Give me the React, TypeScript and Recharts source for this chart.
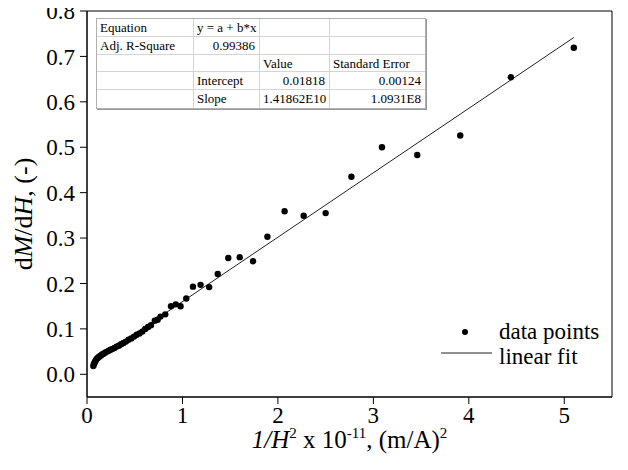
import React from 'react';
import { ComposedChart, Scatter, XAxis, YAxis, ReferenceArea } from 'recharts';

// 1/H^2 x 10^-11 (m/A)^2
const xValues = [
  0.066, 0.072, 0.078, 0.085, 0.093, 0.102, 0.112, 0.123, 0.135, 0.148,
  0.162, 0.177, 0.193, 0.21, 0.228, 0.247, 0.267, 0.288, 0.31, 0.333,
  0.357, 0.382, 0.408, 0.435, 0.463, 0.492, 0.52, 0.55, 0.58, 0.61,
  0.64, 0.67, 0.71, 0.74, 0.77, 0.82, 0.88, 0.93, 0.98, 1.04,
  1.11, 1.19, 1.28, 1.37, 1.48, 1.6, 1.74, 1.89, 2.07, 2.27,
  2.5, 2.77, 3.09, 3.46, 3.91, 4.44, 5.1,
];
// dM/dH (-)
const yValues = [
  0.018, 0.022, 0.025, 0.028, 0.031, 0.034, 0.036, 0.038, 0.04, 0.042,
  0.044, 0.046, 0.048, 0.05, 0.052, 0.054, 0.056, 0.058, 0.061, 0.063,
  0.066, 0.069, 0.072, 0.076, 0.079, 0.083, 0.087, 0.09, 0.094, 0.1,
  0.104, 0.108, 0.118, 0.12, 0.127, 0.132, 0.15, 0.154, 0.15, 0.167,
  0.193, 0.197, 0.192, 0.221, 0.256, 0.258, 0.249, 0.303, 0.359, 0.349,
  0.355, 0.435, 0.5, 0.483, 0.526, 0.654, 0.719,
];

const fitIntercept = 0.01818;
const fitSlope = 0.141862; // 1.41862E10 in units of 1e-11
const fitXRange = [0.066, 5.1];

const xTicks = [0, 1, 2, 3, 4, 5];
const xMinorTicks = [0, 0.5, 1, 1.5, 2, 2.5, 3, 3.5, 4, 4.5, 5, 5.5];
const yTicks = [0, 0.1, 0.2, 0.3, 0.4, 0.5, 0.6, 0.7, 0.8];
const yMinorTicks = [-0.05, 0, 0.05, 0.1, 0.15, 0.2, 0.25, 0.3, 0.35, 0.4, 0.45, 0.5, 0.55, 0.6, 0.65, 0.7, 0.75, 0.8];

const legendLabels = ['data points', 'linear fit'];

const tableRows = [
  ['Equation', 'y = a + b*x', '', ''],
  ['Adj. R-Square', '0.99386', '', ''],
  ['', '', 'Value', 'Standard Error'],
  ['', 'Intercept', '0.01818', '0.00124'],
  ['', 'Slope', '1.41862E10', '1.0931E8'],
];
const rightAligned = [
  [false, false, false, false],
  [false, true, false, false],
  [false, false, false, false],
  [false, false, true, true],
  [false, false, true, true],
];

const points = xValues.map((x, i) => ({ x, y: yValues[i] }));
const fitData = fitXRange.map((x) => ({ x, y: fitIntercept + fitSlope * x }));

const FONT = '"Liberation Serif", "Times New Roman", serif';

const XTitle = (props: any) => {
  const vb = props.viewBox || { x: 87, y: 397, width: 525 };
  const cx = vb.x + vb.width / 2;
  const by = vb.y + 51;
  return (
    <text x={cx} y={by} textAnchor="middle" fontFamily={FONT} fontSize={25} fill="#000">
      <tspan fontStyle="italic">1/H</tspan>
      <tspan dy={-10} fontSize={15}>2</tspan>
      <tspan dy={10}> x 10</tspan>
      <tspan dy={-10} fontSize={15}>-11</tspan>
      <tspan dy={10}>, (m/A)</tspan>
      <tspan dy={-10} fontSize={15}>2</tspan>
    </text>
  );
};

const YTitle = (props: any) => {
  const vb = props.viewBox || { x: 17, y: 11, height: 386 };
  const cx = 23;
  const cy = vb.y + vb.height / 2 + 10;
  return (
    <text
      x={cx}
      y={cy}
      transform={`rotate(-90, ${cx}, ${cy})`}
      textAnchor="middle"
      dominantBaseline="central"
      fontFamily={FONT}
      fontSize={26}
      fill="#000"
    >
      <tspan>d</tspan>
      <tspan fontStyle="italic">M</tspan>
      <tspan>/d</tspan>
      <tspan fontStyle="italic">H</tspan>
      <tspan>, (-)</tspan>
    </text>
  );
};

const LegendBox = () => (
  <svg
    width={175}
    height={52}
    style={{ position: 'absolute', left: 440, top: 318, overflow: 'visible' }}
  >
    <circle cx={25} cy={14} r={3} fill="#000" />
    <text x={59} y={21} fontFamily={FONT} fontSize={23} fill="#000">{legendLabels[0]}</text>
    <line x1={1} x2={52} y1={35} y2={35} stroke="#222" strokeWidth={1} />
    <text x={59} y={46} fontFamily={FONT} fontSize={23} fill="#000">{legendLabels[1]}</text>
  </svg>
);

const colWidths = [97, 66, 70, 95];
const rowHeight = 17.8;

const FitTable = () => (
  <div
    style={{
      position: 'absolute',
      left: 96,
      top: 18,
      background: '#fff',
      border: '1px solid #b0b0b0',
      boxShadow: '1px 1px 0 #999',
      fontFamily: FONT,
      fontSize: 13,
      color: '#000',
    }}
  >
    {tableRows.map((row, r) => (
      <div key={r} style={{ display: 'flex' }}>
        {row.map((cell, c) => (
          <div
            key={c}
            style={{
              width: colWidths[c],
              height: rowHeight,
              boxSizing: 'border-box',
              borderRight: c < 3 ? '1px solid #d4d4d4' : 'none',
              borderBottom: r < 4 ? '1px solid #d4d4d4' : 'none',
              textAlign: rightAligned[r][c] ? 'right' : 'left',
              padding: '0 4px 0 3px',
              lineHeight: `${rowHeight}px`,
              whiteSpace: 'nowrap',
            }}
          >
            {cell}
          </div>
        ))}
      </div>
    ))}
  </div>
);

export default function App() {
  const tickStyle = { fontFamily: FONT, fontSize: 23, fill: '#000' };
  return (
    <div
      style={{
        position: 'relative',
        width: 628,
        height: 470,
        marginLeft: -8,
        marginTop: -8,
        background: '#fff',
      }}
    >
      <ComposedChart
        width={628}
        height={470}
        margin={{ top: 11, right: 16, bottom: 13, left: 17 }}
      >
        <XAxis
          xAxisId="minor"
          type="number"
          domain={[0, 5.5]}
          ticks={xMinorTicks}
          interval={0}
          tick={false}
          tickSize={4}
          axisLine={false}
          tickLine={{ stroke: '#000' }}
          height={0}
          allowDataOverflow
        />
        <XAxis
          dataKey="x"
          type="number"
          domain={[0, 5.5]}
          ticks={xTicks}
          interval={0}
          tickSize={7}
          tickMargin={3}
          tick={tickStyle}
          axisLine={{ stroke: '#000' }}
          tickLine={{ stroke: '#000' }}
          height={60}
          allowDataOverflow
          label={{ content: (p: any) => <XTitle {...p} /> }}
        />
        <YAxis
          yAxisId="minor"
          type="number"
          domain={[-0.05, 0.8]}
          ticks={yMinorTicks}
          interval={0}
          tick={false}
          tickSize={4}
          axisLine={false}
          tickLine={{ stroke: '#000' }}
          width={0}
          allowDataOverflow
        />
        <YAxis
          dataKey="y"
          type="number"
          domain={[-0.05, 0.8]}
          ticks={yTicks}
          interval={0}
          tickFormatter={(v: number) => v.toFixed(1)}
          tickSize={7}
          tickMargin={5}
          tick={tickStyle}
          axisLine={{ stroke: '#000' }}
          tickLine={{ stroke: '#000' }}
          width={70}
          allowDataOverflow
          label={{ content: (p: any) => <YTitle {...p} /> }}
        />
        <ReferenceArea
          x1={0}
          x2={5.5}
          y1={-0.05}
          y2={0.8}
          fill="none"
          fillOpacity={0}
          stroke="#000"
          strokeWidth={1}
          ifOverflow="visible"
        />
        <Scatter
          name="linear fit"
          data={fitData}
          line={{ stroke: '#222', strokeWidth: 1 }}
          shape={() => <g />}
          isAnimationActive={false}
        />
        <Scatter
          name="data points"
          data={points}
          shape={(p: any) => <circle cx={p.cx} cy={p.cy} r={3.2} fill="#000" />}
          isAnimationActive={false}
        />
      </ComposedChart>
      <FitTable />
      <LegendBox />
    </div>
  );
}
